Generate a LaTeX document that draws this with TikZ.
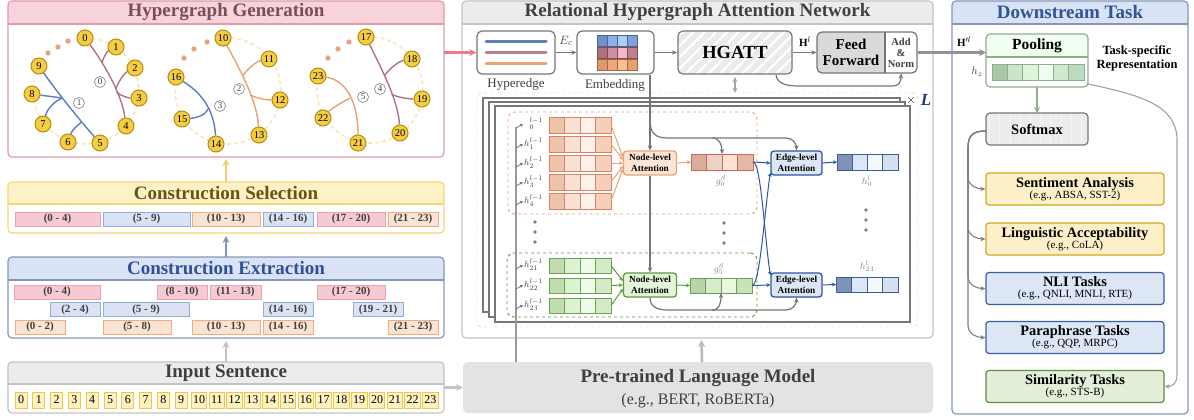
\documentclass[tikz,border=0pt]{standalone}
\usepackage{fontspec}
\setmainfont{Liberation Serif}
\usetikzlibrary{arrows.meta,patterns.meta,calc}
\pgfdeclarelayer{back}
\pgfdeclarelayer{edges}
\pgfsetlayers{back,edges,main}
\definecolor{pkF}{HTML}{F8D3DC}\definecolor{pkL}{HTML}{E39AAD}\definecolor{pkT}{HTML}{7D4B5B}
\definecolor{ylF}{HTML}{FDF1C7}\definecolor{ylL}{HTML}{F6D675}\definecolor{ylT}{HTML}{6B5310}
\definecolor{blF}{HTML}{DAE3F3}\definecolor{blL}{HTML}{8497B8}\definecolor{blT}{HTML}{2F4F9A}
\definecolor{gyF}{HTML}{ECECEC}\definecolor{gyL}{HTML}{C4C4C4}\definecolor{gyT}{HTML}{404040}
\definecolor{rPkF}{HTML}{F7C9D2}\definecolor{rPkL}{HTML}{E9A3B1}
\definecolor{rBlF}{HTML}{DAE3F3}\definecolor{rBlL}{HTML}{93ACD9}
\definecolor{rOrF}{HTML}{FBE3D3}\definecolor{rOrL}{HTML}{F1AD82}
\definecolor{tokF}{HTML}{FEF1C2}\definecolor{tokL}{HTML}{F3C744}
\definecolor{nodeF}{HTML}{F3CE45}\definecolor{nodeL}{HTML}{B98A0E}
\definecolor{dashY}{HTML}{FBE7B5}
\definecolor{heM}{HTML}{B07383}\definecolor{heB}{HTML}{5B7FBF}\definecolor{heO}{HTML}{E8A274}
\definecolor{dotO}{HTML}{E9A47C}
\definecolor{arrG}{HTML}{767676}
\definecolor{oc1}{HTML}{EEC3A8}\definecolor{oc2}{HTML}{F9E2D3}\definecolor{oc3}{HTML}{FDF2EA}\definecolor{oc4}{HTML}{F4D0B8}\definecolor{oB}{HTML}{D9826A}
\definecolor{gc1}{HTML}{BFDDB0}\definecolor{gc2}{HTML}{DDF2D2}\definecolor{gc3}{HTML}{F0FAEA}\definecolor{gc4}{HTML}{D2EBC5}\definecolor{gB}{HTML}{6FA058}
\definecolor{qc1}{HTML}{D9AE9C}\definecolor{qc2}{HTML}{EBD3C8}\definecolor{qc3}{HTML}{FDE3D3}\definecolor{qc4}{HTML}{E2B9A6}\definecolor{qB}{HTML}{C86A55}
\definecolor{fc1}{HTML}{B8D4A8}\definecolor{fc2}{HTML}{D5EBC9}\definecolor{fc3}{HTML}{E8F8DE}\definecolor{fc4}{HTML}{C8E3BA}\definecolor{fB}{HTML}{6E9E55}
\definecolor{bc1}{HTML}{7F93B8}\definecolor{bc2}{HTML}{DCE6F5}\definecolor{bc3}{HTML}{F5F8FD}\definecolor{bc4}{HTML}{D4DFF0}\definecolor{bB}{HTML}{3C5C9A}
\definecolor{ec1}{HTML}{7090C8}\definecolor{ec2}{HTML}{8FB0E8}\definecolor{ec3}{HTML}{A8D0F8}\definecolor{ec4}{HTML}{7FA0D8}
\definecolor{ep1}{HTML}{B07080}\definecolor{ep2}{HTML}{D090A0}\definecolor{ep3}{HTML}{F8B8C8}\definecolor{ep4}{HTML}{C08090}
\definecolor{eo1}{HTML}{E09868}\definecolor{eo2}{HTML}{F0A878}\definecolor{eo3}{HTML}{F8C090}\definecolor{eo4}{HTML}{E8A070}
\definecolor{pc1}{HTML}{A7C8A7}\definecolor{pc2}{HTML}{CBE5CB}\definecolor{pc3}{HTML}{DDF5DD}\definecolor{pc4}{HTML}{F2FBF2}\definecolor{pc5}{HTML}{CFE8CF}\definecolor{pc6}{HTML}{BFDBBF}\definecolor{pB}{HTML}{8FAE8F}
\definecolor{nlaOF}{HTML}{FDE5D5}\definecolor{nlaOL}{HTML}{EBA478}
\definecolor{nlaGF}{HTML}{E5F5DA}\definecolor{nlaGL}{HTML}{5E9A3E}
\definecolor{elaF}{HTML}{DCE6F5}\definecolor{elaL}{HTML}{2F54A0}
\definecolor{saF}{HTML}{FDF0C8}\definecolor{saL}{HTML}{D4A520}
\definecolor{nlF}{HTML}{DCE6F4}\definecolor{nlL}{HTML}{3A5FA0}
\definecolor{stF}{HTML}{E2EFD9}\definecolor{stL}{HTML}{5F8F40}
\definecolor{dsT}{HTML}{2F5597}
\definecolor{Ldark}{HTML}{1F3A7A}
\newcommand\fz[2]{\fontsize{#1}{#2}\selectfont}
\newcommand\vecrow[6]{%
  \foreach \cc [count=\ii from 0] in {#6}{%
    \filldraw[draw=#5, fill=\cc, line width=0.8] ({#1+\ii*#3},#2) rectangle ++(#3,#4);}}
\newcommand\panelhead[5]{%
  \fill[#5, rounded corners=4] (#1,#2) rectangle (#3,#4);
  \fill[#5] (#1,#4-6) rectangle (#3,#4);}
\newcommand\rbox[6]{\node[rng,#5,minimum width={#3-#2}] (#1) at ({(#2+#3)/2},#4) {#6};}
\begin{document}
\begin{tikzpicture}[x=1pt,y=-1pt,
  ttl/.style={font=\fz{19}{22}\bfseries, inner sep=0},
  pnl/.style={rounded corners=4, line width=1.2, inner sep=0, outer sep=0},
  rng/.style={minimum height=14, inner sep=0, line width=0.9, font=\fz{11}{12}\bfseries, text=gyT},
  rpk/.style={fill=rPkF, draw=rPkL},
  rbl/.style={fill=rBlF, draw=rBlL},
  ror/.style={fill=rOrF, draw=rOrL},
  tok/.style={fill=tokF, draw=tokL, line width=0.8, minimum height=16, inner sep=0, font=\fz{12}{12}},
  hn/.style={circle, fill=nodeF, draw=nodeL, line width=1, minimum size=16, inner sep=0, font=\fz{10.5}{11}},
  hl/.style={circle, draw=gray, line width=0.6, minimum size=11, inner sep=0, font=\fz{9}{9}, text=gyT},
  he/.style={line width=1.4},
  dcirc/.style={draw=dashY, line width=1.6, dash pattern=on 4pt off 3pt},
  bigarr/.style={line width=2.6, -{Stealth[length=7pt,width=7pt]}},
  garrow/.style={draw=arrG, line width=1.2, -{Stealth[length=5pt,width=4.5pt]}},
  oarrow/.style={draw=nlaOL, line width=1, -{Stealth[length=4pt,width=4pt]}},
  grarrow/.style={draw=nlaGL, line width=1, -{Stealth[length=4pt,width=4pt]}},
  barrow/.style={draw=elaL, line width=1, -{Stealth[length=4pt,width=4pt]}},
  sarr/.style={draw=arrG, line width=0.8, -{Stealth[length=3pt,width=3pt]}},
  box/.style={rounded corners=5, line width=1.2, draw=arrG, inner sep=0},
  vbox/.style={minimum width=62, minimum height=16, inner sep=0, outer sep=0},
  att/.style={rounded corners=3, line width=1.3, minimum width=53, minimum height=24, inner sep=0, align=center, font=\fz{9.3}{10.5}\bfseries},
  hlab/.style={anchor=west, inner sep=0, text=gyT, font=\fz{9.5}{9.5}},
  glab/.style={inner sep=0, text=gray, font=\fz{10}{10}},
  task/.style={rounded corners=3, line width=1.2, minimum width=178, minimum height=32, inner sep=0, align=center},
  tarr/.style={draw=gray, line width=1.1, -{Stealth[length=5pt,width=4.5pt]}},
]
\useasboundingbox (0,0) rectangle (1194,420);
\begin{pgfonlayer}{back}
\fill[white] (0,0) rectangle (1194,420);
\end{pgfonlayer}

% ================= LEFT COLUMN =================
\panelhead{8}{1}{444}{24}{pkF}
\node[pnl, draw=pkL, minimum width=436, minimum height=156] (HG) at (226,79) {};
\draw[pkL, line width=1.2] (8,24) -- (444,24);
\node[ttl, text=pkT] (HGt) at (226,12.5) {Hypergraph Generation};

\panelhead{8}{182}{444}{204}{ylF}
\node[pnl, draw=ylL, minimum width=436, minimum height=51] (CS) at (226,207.5) {};
\draw[ylL, line width=1.2] (8,204) -- (444,204);
\node[ttl, text=ylT] (CSt) at (226,193) {Construction Selection};

\panelhead{8}{257}{444}{280}{blF}
\node[pnl, draw=blL, minimum width=436, minimum height=81] (CE) at (226,297.5) {};
\draw[blL, line width=1.2] (8,280) -- (444,280);
\node[ttl, text=blT] (CEt) at (226,268.5) {Construction Extraction};

\panelhead{8}{362}{444}{384}{gyF}
\node[pnl, draw=gyL, minimum width=436, minimum height=51] (IS) at (226,387.5) {};
\draw[gyL, line width=1.2] (8,384) -- (444,384);
\node[ttl, text=gyT] (ISt) at (226,373) {Input Sentence};

\draw[bigarr, draw=ylL!90!orange] (CS.north) -- ([yshift=-2pt]HG.south);
\draw[bigarr, draw=blL] (CE.north) -- ([yshift=-3pt]CS.south);
\draw[bigarr, draw=gyL] (IS.north) -- ([yshift=-3pt]CE.south);

% selection boxes
\rbox{s1}{15}{100}{219}{rpk}{(0 - 4)}
\rbox{s2}{103}{190}{219}{rbl}{(5 - 9)}
\rbox{s3}{192}{260}{219}{ror}{(10 - 13)}
\rbox{s4}{263}{313}{219}{rbl}{(14 - 16)}
\rbox{s5}{317}{385}{219}{rpk}{(17 - 20)}
\rbox{s6}{388}{438}{219}{ror}{(21 - 23)}
% extraction boxes
\rbox{e1}{14}{100}{292}{rpk}{(0 - 4)}
\rbox{e2}{157}{207}{292}{rpk}{(8 - 10)}
\rbox{e3}{210}{261}{292}{rpk}{(11 - 13)}
\rbox{e4}{317}{385}{292}{rpk}{(17 - 20)}
\rbox{e5}{50}{100}{309.5}{rbl}{(2 - 4)}
\rbox{e6}{103}{189}{309.5}{rbl}{(5 - 9)}
\rbox{e7}{263}{313}{309.5}{rbl}{(14 - 16)}
\rbox{e8}{353}{403}{309.5}{rbl}{(19 - 21)}
\rbox{e9}{15}{65}{327}{ror}{(0 - 2)}
\rbox{e10}{103}{171}{327}{ror}{(5 - 8)}
\rbox{e11}{192}{260}{327}{ror}{(10 - 13)}
\rbox{e12}{263}{313}{327}{ror}{(14 - 16)}
\rbox{e13}{388}{438}{327}{ror}{(21 - 23)}
% tokens
\foreach \i in {0,...,23}{%
  \pgfmathsetmacro\tw{\i<10 ? 12 : 15.5}
  \node[tok, minimum width=\tw] (t\i) at ({21+17.8*\i},400) {\i};}

% ---- hypergraphs ----
\begin{pgfonlayer}{edges}
\draw[dcirc] ([shift={(-91:53)}]86,91) arc[start angle=-91, end angle=208, radius=53];
\draw[dcirc] ([shift={(-95:53)}]228,91) arc[start angle=-95, end angle=195, radius=53];
\draw[dcirc] ([shift={(-94:53)}]370,90) arc[start angle=-94, end angle=195, radius=53];
\end{pgfonlayer}
\foreach \p in {(48,53),(58,47),(68,41),(184,58),(194,49),(207,42),(328,58),(338,49),(349,42)}
  \fill[dotO] \p circle[radius=2.7];

\node[hn] (n0) at (85,38) {0};
\node[hn] (n1) at (116,47) {1};
\node[hn] (n2) at (135,68) {2};
\node[hn] (n3) at (139,98) {3};
\node[hn] (n4) at (126,126) {4};
\node[hn] (n5) at (100,143) {5};
\node[hn] (n6) at (68,142) {6};
\node[hn] (n7) at (43,124) {7};
\node[hn] (n8) at (32,94) {8};
\node[hn] (n9) at (39,66) {9};
\node[hn] (n10) at (223,38) {10};
\node[hn] (n11) at (269,59) {11};
\node[hn] (n12) at (280,100) {12};
\node[hn] (n13) at (259,135) {13};
\node[hn] (n14) at (216,144) {14};
\node[hn] (n15) at (182,119) {15};
\node[hn] (n16) at (176,77) {16};
\node[hn] (n17) at (366,37) {17};
\node[hn] (n18) at (412,59) {18};
\node[hn] (n19) at (422,99) {19};
\node[hn] (n20) at (400,133) {20};
\node[hn] (n21) at (358,143) {21};
\node[hn] (n22) at (323,118) {22};
\node[hn] (n23) at (318,76) {23};

\begin{pgfonlayer}{edges}
\draw[he, heM] (n0) .. controls (105,65) and (122,95) .. (n4);
\draw[he, heM] (102,63) .. controls (104,55) and (108,51) .. (n1);
\draw[he, heM] (115.6,89.4) .. controls (120,78) and (126,72) .. (n2);
\draw[he, heM] (116.5,92) .. controls (122,97) and (130,98) .. (n3);
\draw[he, heB] (n9) .. controls (52,85) and (75,115) .. (n5);
\draw[he, heB] (n8) -- (62,98);
\draw[he, heB] (62,98) .. controls (52,103) and (47,110) .. (n7);
\draw[he, heB] (81.7,121.8) .. controls (77,126) and (72,130) .. (n6);
\draw[he, heO] (n10) .. controls (240,70) and (257,100) .. (n13);
\draw[he, heO] (242.5,76) .. controls (250,66) and (258,61) .. (n11);
\draw[he, heO] (250.3,95) .. controls (258,99) and (268,100) .. (n12);
\draw[he, heB] (n16) .. controls (200,92) and (214,108) .. (n14);
\draw[he, heB] (208,109) .. controls (205,116) and (195,118) .. (n15);
\draw[he, heM] (n17) .. controls (382,70) and (398,100) .. (n20);
\draw[he, heM] (384.3,75.5) .. controls (392,66) and (400,61) .. (n18);
\draw[he, heM] (391.7,94.5) .. controls (400,98) and (410,99) .. (n19);
\draw[he, heO] (n23) .. controls (345,80) and (358,100) .. (n21);
\draw[he, heO] (349.7,98.2) .. controls (340,103) and (330,110) .. (n22);
\end{pgfonlayer}
\node[hl] (l0) at (100,82) {0};
\node[hl] (l1) at (79,103) {1};
\node[hl] (l2) at (239,89) {2};
\node[hl] (l3) at (220,106) {3};
\node[hl] (l5) at (363,97) {5};
\node[hl] (l4) at (380,89) {4};

% ================= MIDDLE =================
\panelhead{462}{1}{933}{24}{gyF}
\node[pnl, draw=gyL, minimum width=471, minimum height=337] (RH) at (697.5,169.5) {};
\draw[gyL, line width=1.2] (462,24) -- (933,24);
\node[ttl, text=gyT] (RHt) at (697.5,12.5) {Relational Hypergraph Attention Network};

\node[fill=gray!22, rounded corners=5, minimum width=470, minimum height=51, inner sep=0] (PLM) at (698,387.5) {};
\node[inner sep=0, text=gyT, font=\fz{19}{21}\bfseries] (PLMt) at (698,378) {Pre-trained Language Model};
\node[inner sep=0, text=gyT, font=\fz{16}{18}] (PLMs) at (698,400.5) {(e.g., BERT, RoBERTa)};
\draw[bigarr, draw=gyL] (IS.east) -- (PLM.west);
\draw[bigarr, draw=gray!55] ([xshift=4pt]PLM.north) -- ([xshift=4pt,yshift=-2pt]RH.south);

% top row
\node[box, minimum width=78, minimum height=43] (HE) at (516,52.5) {};
\draw[heB, line width=3, line cap=round] (486,42) -- (546,42);
\draw[heM!90, line width=3, line cap=round] (486,52.5) -- (546,52.5);
\draw[heO, line width=3, line cap=round] (486,64) -- (546,64);
\node[inner sep=0, font=\fz{13}{14}, text=gyT] (HEl) at (516,84) {Hyperedge};
\draw[bigarr, draw=pkL!80!red] (HG.east |- HE.west) -- (HE.west);

\node[box, minimum width=77, minimum height=43] (EMB) at (615.5,52.5) {};
\vecrow{597}{35}{10}{11}{ec1!70!black}{ec1,ec2,ec3,ec4}
\vecrow{597}{47}{10}{11}{ep1!70!black}{ep1,ep2,ep3,ep4}
\vecrow{597}{59}{10}{11}{eo1!70!black}{eo1,eo2,eo3,eo4}
\node[inner sep=0, font=\fz{13}{14}, text=gyT] (EMBl) at (615,85) {Embedding};
\draw[garrow, line width=1.5] (HE.east) -- (EMB.west);
\node[inner sep=0, font=\fz{13}{14}, text=gyT] (Ec) at (566,41) {$E_c$};

\node[box, minimum width=114, minimum height=43, preaction={fill=gray!16}, pattern={Lines[angle=45,distance=8pt,line width=2.2pt]}, pattern color=white] (HGATT) at (735,52.5) {};
\node[inner sep=0, font=\fz{18.5}{20}\bfseries] (HGt) at (735,52.5) {HGATT};
\draw[garrow, line width=1.5] (EMB.east) -- (HGATT.west);

\begin{scope}
\clip[rounded corners=4] (817,32) rectangle (917,73);
\fill[gray!30] (817,32) rectangle (885,73);
\fill[pattern={Dots[distance=6pt,radius=0.5pt]}, pattern color=white] (817,32) rectangle (917,73);
\end{scope}
\node[box, minimum width=100, minimum height=41] (FFN) at (867,52.5) {};
\draw[arrG, line width=1.2] (885,32) -- (885,73);
\node[inner sep=0, align=center, font=\fz{15}{16}\bfseries] (FFt) at (851,52.5) {Feed\\Forward};
\node[inner sep=0, align=center, font=\fz{10.5}{11}\bfseries, text=gyT] (ANt) at (901,52.5) {Add\\\&\\Norm};
\draw[garrow, line width=1.5] (HGATT.east) -- (FFN.west);
\node[inner sep=0, font=\fz{11}{12}] (Hl) at (805,42) {$\mathbf{H}^{l}$};
\draw[garrow] ([xshift=-17pt]HGATT.south east) .. controls (777,83) and (785,86) .. (798,86) -- (892,86) .. controls (899,86) and (901,82) .. (ANt.south |- FFN.south);

% layer stack
\node[draw=gyL, dashed, rounded corners=5, minimum width=441, minimum height=234, inner sep=0] (LBOX) at (697.5,210) {};
\draw[{Stealth[length=5pt,width=5pt]}-{Stealth[length=5pt,width=5pt]}, draw=gray!70, line width=1.2] ([yshift=-2pt]HGATT.south) -- (HGATT.south |- LBOX.north);
\node[draw=arrG, fill=white, line width=1.1, minimum width=417, minimum height=214, inner sep=0] (F1) at (691.5,205) {};
\node[draw=arrG, fill=white, line width=1.1, minimum width=416, minimum height=215, inner sep=0] (F2) at (697,209.5) {};
\node[draw=arrG, fill=white, line width=1.1, minimum width=415, minimum height=216, inner sep=0] (F3) at (702.5,214) {};
\node[inner sep=0, font=\fz{13}{13}] (xL) at (911,100) {$\times$};
\node[inner sep=0, font=\fz{17}{17}\bfseries\itshape, text=Ldark] (LL) at (926,100) {L};

\node[draw=nlaOL, dashed, rounded corners=7, line width=0.9, minimum width=249, minimum height=102, inner sep=0] (UG) at (632.5,163) {};
\node[draw=nlaGL, dashed, rounded corners=7, line width=0.9, minimum width=250, minimum height=64, inner sep=0] (LG) at (632,285) {};

\foreach \r/\yt in {0/117,1/136,2/155,3/174,4/193}{%
  \vecrow{549}{\yt}{15.5}{16}{oB}{oc1,oc2,oc3,oc4}
  \node[vbox] (u\r) at (580,\yt+8) {};}
\foreach \r/\yt in {21/258,22/278,23/298}{%
  \vecrow{549}{\yt}{15.5}{15}{gB}{gc1,gc2,gc3,gc4}
  \node[vbox, minimum height=15] (w\r) at (580,\yt+7.5) {};}

\coordinate (vtop) at (516,127);
\draw[draw=gray!80, line width=1.2] (PLM.north -| vtop) -- (vtop);
\node[hlab] (lh0) at (524,124) {$\hphantom{h}^{l-1}_{0}$};
\node[hlab] (lh1) at (524,144) {$h^{l-1}_{1}$};
\node[hlab] (lh2) at (524,163) {$h^{l-1}_{2}$};
\node[hlab] (lh3) at (524,182) {$h^{l-1}_{3}$};
\node[hlab] (lh4) at (524,201) {$h^{l-1}_{4}$};
\node[hlab] (lh21) at (524,265) {$h^{l-1}_{21}$};
\node[hlab] (lh22) at (524,285) {$h^{l-1}_{22}$};
\node[hlab] (lh23) at (524,305) {$h^{l-1}_{23}$};
\foreach \n in {0,1,2,3,4,21,22,23}
  \draw[sarr] ($(lh\n.west -| vtop)+(0,4)$) -- ([xshift=-1pt]lh\n.west);

\node[att, fill=nlaOF, draw=nlaOL] (NLA1) at (650,163) {Node-level\\Attention};
\node[att, fill=nlaGF, draw=nlaGL] (NLA2) at (650,285) {Node-level\\Attention};
\node[att, fill=elaF, draw=elaL, minimum width=51] (ELA1) at (796.5,163) {Edge-level\\Attention};
\node[att, fill=elaF, draw=elaL, minimum width=51] (ELA2) at (796.5,285) {Edge-level\\Attention};

\vecrow{691}{154}{15.5}{16}{qB}{qc1,qc2,qc3,qc4}
\node[vbox] (g0) at (722,162) {};
\vecrow{690}{278}{15.5}{15}{fB}{fc1,fc2,fc3,fc4}
\node[vbox, minimum height=15] (g5) at (721,285.5) {};
\vecrow{837}{154}{15.25}{16}{bB}{bc1,bc2,bc3,bc4}
\node[vbox, minimum width=61] (h0) at (867.5,162) {};
\vecrow{836}{277}{15.5}{15}{bB}{bc1,bc2,bc3,bc4}
\node[vbox, minimum height=15] (h23) at (867,284.5) {};

\node[glab] (g0l) at (721,181) {$g_0^{\prime l}$};
\node[glab] (g5l) at (719,269) {$g_5^{\prime l}$};
\node[glab] (h0l) at (867,181) {$h_0^{l}$};
\node[glab] (h23l) at (867,266) {$h_{23}^{l}$};

\foreach \r/\s in {0/6,1/3,2/0,3/-3,4/-6}
  \draw[oarrow] (u\r.east) -- ([yshift=\s pt]NLA1.west);
\foreach \r/\s in {21/4,22/0,23/-4}
  \draw[grarrow] (w\r.east) -- ([yshift=\s pt]NLA2.west);
\draw[oarrow] (NLA1.east) -- (g0.west);
\draw[grarrow] (NLA2.east) -- (g5.west);
\draw[barrow] (g0.east) -- (ELA1.west);
\draw[barrow] (g5.east) -- (ELA2.west);
\draw[barrow] (g0.east) .. controls +(8,0) and +(-6,-40) .. ([yshift=-3pt]ELA2.north west);
\draw[barrow] (g5.east) .. controls +(8,0) and +(-6,40) .. ([yshift=3pt]ELA1.south west);
\draw[barrow] (ELA1.east) -- (h0.west);
\draw[barrow] (ELA2.east) -- (h23.west);

\draw[garrow] (EMB.south -| NLA1.north) -- (NLA1.north);
\draw[garrow] (NLA1.south) -- (NLA2.north);
\coordinate (br1) at (650,120);
\draw[garrow] (br1) .. controls (650,134) and (656,138) .. (668,138) -- (712,138) .. controls (719,138) and (722,144) .. (g0.north);
\draw[garrow] (712,138) -- (786,138) .. controls (793,138) and (796.5,144) .. (ELA1.north);
\draw[garrow] (NLA2.south) .. controls (650,306) and (656,310) .. (668,310) -- (712,310) .. controls (719,310) and (721,304) .. (g5.south);
\draw[garrow] (712,310) -- (786,310) .. controls (793,310) and (796.5,304) .. (ELA2.south);

\foreach \p in {(535,222),(535,232),(535,242),(724,223),(724,233),(724,243),(866,210),(866,220),(866,230)}
  \fill[gray] \p circle[radius=1.9];

% ================= RIGHT =================
\panelhead{952}{1}{1188}{24}{blF}
\node[pnl, draw=blL, minimum width=236, minimum height=413] (DS) at (1070,207.5) {};
\draw[blL, line width=1.2] (952,24) -- (1188,24);
\node[ttl, text=dsT] (DSt) at (1070,12.5) {Downstream Task};

\begin{scope}
\clip[rounded corners=4] (986,34) rectangle (1088,87);
\fill[green!6] (986,34) rectangle (1088,57);
\end{scope}
\node[pnl, draw=pB, minimum width=102, minimum height=53] (POOL) at (1037,60.5) {};
\draw[pB, line width=1.2] (986,57) -- (1088,57);
\node[inner sep=0, font=\fz{15.5}{16}\bfseries] (POOLt) at (1037,46) {Pooling};
\vecrow{992}{64}{15.33}{16}{pB}{pc1,pc2,pc3,pc4,pc5,pc6}
\node[vbox, minimum width=92] (hz) at (1038,72) {};
\node[inner sep=0, text=gyT, font=\fz{11}{11}] (hzl) at (977,72) {$h_z$};
\node[inner sep=0, align=center, font=\fz{12.5}{14}\bfseries] (TSR) at (1137,58) {Task-specific\\Representation};
\draw[bigarr, draw=gray!85, line width=3] (FFN.east) -- (FFN.east -| POOL.west);
\node[inner sep=0, font=\fz{11}{12}] (Hpl) at (964,42) {$\mathbf{H}^{\prime l}$};

\begin{scope}
\clip[rounded corners=4] (986,113) rectangle (1088,145);
\fill[gray!15] (986,113) rectangle (1088,145);
\draw[white, line width=0.6, dash pattern=on 1pt off 1pt, step=10.2] (986,113) grid (1088,145);
\end{scope}
\node[pnl, draw=arrG, minimum width=102, minimum height=32] (SOFT) at (1037,129) {};
\node[inner sep=0, font=\fz{14.5}{15}\bfseries] (SOFTt) at (1037,129) {Softmax};
\draw[draw=pB, line width=1.4, -{Stealth[length=6pt,width=6pt]}] (POOL.south) -- (SOFT.north);

\node[task, fill=saF, draw=saL] (SA) at (1075,189) {{\fz{14.4}{14}\bfseries Sentiment Analysis}\\[-1pt]{\fz{11}{11}(e.g., ABSA, SST-2)}};
\node[task, fill=saF, draw=saL] (LA) at (1075,239) {{\fz{14.4}{14}\bfseries Linguistic Acceptability}\\[-1pt]{\fz{11}{11}(e.g., CoLA)}};
\node[task, fill=nlF, draw=nlL] (NLI) at (1075,288.5) {{\fz{14.4}{14}\bfseries NLI Tasks}\\[-1pt]{\fz{11}{11}(e.g., QNLI, MNLI, RTE)}};
\node[task, fill=nlF, draw=nlL] (PT) at (1075,337.5) {{\fz{14.4}{14}\bfseries Paraphrase Tasks}\\[-1pt]{\fz{11}{11}(e.g., QQP, MRPC)}};
\node[task, fill=stF, draw=stL] (ST) at (1075,386.5) {{\fz{14.4}{14}\bfseries Similarity Tasks}\\[-1pt]{\fz{11}{11}(e.g., STS-B)}};

\coordinate (trunk) at (968,0);
\coordinate (trunkR) at (1177,0);
\foreach \t in {SA,LA,NLI,PT}
  \draw[tarr] ([yshift=-2pt]SOFT.west) .. controls (972,131) and (968,136) .. (968,148) -- ($(\t.west -| trunk)+(0,-12)$) .. controls ($(\t.west -| trunk)+(0,-3)$) and ($(\t.west)+(-8,0)$) .. (\t.west);
\draw[draw=pB, line width=1.1, -{Stealth[length=5pt,width=4.5pt]}] ([yshift=3pt]POOL.south east) .. controls (1140,95) and (1177,105) .. (1177,140) -- ($(ST.east -| trunkR)+(0,-12)$) .. controls ($(ST.east -| trunkR)+(0,-3)$) and ($(ST.east)+(8,0)$) .. (ST.east);
\end{tikzpicture}
\end{document}
